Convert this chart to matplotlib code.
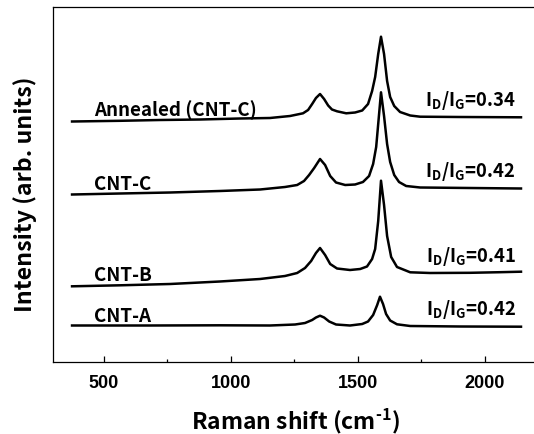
import numpy as np
import matplotlib
matplotlib.use('Agg')
import matplotlib.pyplot as plt

# spectra (wavenumber, intensity in arb. units)
wn_ann = [375, 564, 721, 879, 1036, 1154, 1233, 1284, 1304, 1320, 1335, 1351, 1367, 1383, 1398,
          1418, 1454, 1489, 1517, 1540, 1556, 1568, 1580, 1591, 1603, 1615, 1627, 1643, 1666,
          1706, 1745, 1902, 2142]
int_ann = [240.5, 241.2, 242, 242.5, 243.5, 244, 246, 248.7, 252, 258, 264, 268, 263, 256.5, 252.5,
           250.7, 248.7, 249.5, 251.5, 258, 271, 285, 308, 325.3, 308, 281, 265, 256, 250,
           246.5, 245.3, 245, 244.7]

wn_c = [375, 564, 761, 957, 1115, 1213, 1261, 1288, 1308, 1328, 1351, 1371, 1391, 1414, 1450,
        1489, 1520, 1544, 1560, 1572, 1580, 1591, 1603, 1615, 1627, 1643, 1662, 1690, 1745,
        1942, 2142]
int_c = [167.5, 168.5, 169.5, 171, 172.5, 175, 177, 181, 187, 194, 203, 197, 186, 179.5, 177,
         177.5, 180, 186, 198, 215, 238, 269.7, 246, 218, 200, 187, 180, 176, 174.5,
         174, 173.5]

wn_b = [375, 564, 761, 957, 1115, 1213, 1261, 1292, 1316, 1335, 1351, 1371, 1391, 1418, 1469,
        1509, 1536, 1556, 1568, 1580, 1591, 1603, 1615, 1631, 1654, 1706, 1784, 1942, 2060, 2142]
int_b = [75.7, 76.7, 78, 80.5, 83, 86, 89, 94, 101, 109, 114, 107, 98, 93.5, 92,
         93, 95.5, 103, 113, 141, 181.3, 157, 126, 105, 95, 89.7, 89, 89.2, 89.8, 90.3]

wn_a = [375, 682, 957, 1154, 1253, 1292, 1320, 1335, 1351, 1367, 1387, 1414, 1469, 1517, 1540,
        1560, 1576, 1587, 1599, 1611, 1627, 1654, 1706, 1902, 2142]
int_a = [36.5, 36.5, 36.7, 36.5, 37.5, 39, 42, 44.5, 46.3, 44.5, 40.5, 37.5, 36.5, 38, 40.5,
         47, 57, 65.3, 58, 48, 41.5, 37.7, 36, 35.5, 35.3]

names = ['Annealed (CNT-C)', 'CNT-C', 'CNT-B', 'CNT-A']
ratios = ['0.34', '0.42', '0.41', '0.42']

plt.rcParams['mathtext.fontset'] = 'custom'
plt.rcParams['mathtext.rm'] = 'Noto Sans CJK KR:bold'
plt.rcParams['mathtext.bf'] = 'Noto Sans CJK KR:bold'
plt.rcParams['mathtext.default'] = 'bf'

fig = plt.figure(figsize=(5.34, 4.35), dpi=100)
ax = fig.add_axes([53/534, 72/435, 484/534, 355/435])

spectra = [(wn_ann, int_ann), (wn_c, int_c), (wn_b, int_b), (wn_a, int_a)]
for wn, it in spectra:
    ax.plot(wn, it, color='black', lw=1.8, solid_joinstyle='round')

kr = ['Noto Sans CJK KR', 'DejaVu Sans']
name_y = [247, 173, 82.3, 40.7]
ratio_x = [1765, 1765, 1770, 1770]
ratio_y = [257.3, 185.7, 101.3, 48]
for i in range(4):
    ax.text(463, name_y[i], names[i], va='baseline', ha='left',
            family=kr, weight='bold', fontsize=13.5)
    ax.text(ratio_x[i], ratio_y[i], r'I$_\mathbf{D}$/I$_\mathbf{G}$=' + ratios[i],
            va='baseline', ha='left', family=kr, weight='bold', fontsize=13.3)

ax.set_xlim(300, 2205)
ax.set_ylim(0, 355)
ax.set_xticks([500, 1000, 1500, 2000])
ax.set_xticks([750, 1250, 1750], minor=True)
ax.set_yticks([])
ax.tick_params(axis='x', which='major', direction='in', length=4.3, width=0.9, pad=8.5)
ax.tick_params(axis='x', which='minor', direction='in', length=2.2, width=0.9)
for t in ax.get_xticklabels():
    t.set_fontfamily('Liberation Sans')
    t.set_fontweight('bold')
    t.set_fontsize(13)
for s in ax.spines.values():
    s.set_linewidth(0.9)

fig.text(295/534, 6/435, r'Raman shift (cm$^{\text{-1}}$)', family=kr, weight='bold',
         fontsize=16.5, ha='center', va='baseline')
fig.text(25/534, 1 - 194/435, 'Intensity (arb. units)', family=kr, weight='bold',
         fontsize=16.7, ha='center', va='center', rotation=90)

fig.savefig('out.png', dpi=100)
